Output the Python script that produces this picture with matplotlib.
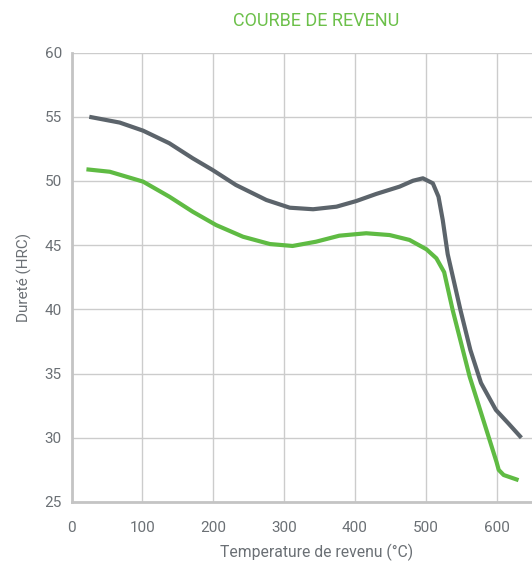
import numpy as np
import matplotlib as mpl
import matplotlib.pyplot as plt

mpl.rcParams['font.family'] = ['Roboto', 'DejaVu Sans']
mpl.rcParams['font.size'] = 11.0

# temperature (C) / hardness (HRC)
gray_t = [25, 68, 101, 138, 171, 199, 232, 275, 308, 341, 374, 402, 430, 463,
          482, 496, 510, 518, 524, 531, 549, 563, 578, 599, 617, 635]
gray_h = [55.0, 54.55, 53.92, 52.94, 51.77, 50.86, 49.69, 48.52, 47.92, 47.8, 48.0, 48.44, 48.99, 49.56,
          50.02, 50.21, 49.82, 48.78, 46.96, 44.3, 39.95, 36.84, 34.27, 32.17, 31.1, 30.0]

green_t = [21, 54, 101, 138, 171, 204, 242, 280, 312, 345, 378, 416, 449, 477, 501,
           515, 526, 538, 562, 600, 603, 610, 631]
green_h = [50.91, 50.72, 49.95, 48.78, 47.61, 46.57, 45.66, 45.09, 44.94, 45.27, 45.74, 45.93, 45.79, 45.41, 44.68,
           43.98, 42.9, 39.95, 34.76, 28.1, 27.5, 27.1, 26.7]

xticks = [0, 100, 200, 300, 400, 500, 600]
yticks = [25, 30, 35, 40, 45, 50, 55, 60]

txt = "#6b7075"

fig = plt.figure(figsize=(5.32, 5.62), dpi=100)
ax = fig.add_axes([0.1345, 0.1068, 0.8655, 0.7996])

ax.plot(gray_t, gray_h, color="#5c646b", lw=3.0, solid_joinstyle="round", solid_capstyle="butt", zorder=3)
ax.plot(green_t, green_h, color="#5fbb43", lw=3.0, solid_joinstyle="round", solid_capstyle="butt", zorder=3)

ax.set_xlim(0, 650)
ax.set_ylim(25, 60)
ax.set_xticks(xticks)
ax.set_yticks(yticks)
ax.grid(True, color="#cccccc", lw=1.0)
ax.set_axisbelow(True)
ax.tick_params(length=0, colors=txt, labelsize=11)
ax.tick_params(axis="x", pad=14)
ax.tick_params(axis="y", pad=7)

for s in ["top", "right"]:
    ax.spines[s].set_visible(False)
for s in ["left", "bottom"]:
    ax.spines[s].set_color("#c4c4c4")
    ax.spines[s].set_linewidth(2)

ax.set_xlabel("Temperature de revenu (°C)", color=txt, fontsize=11.3, labelpad=6, x=0.533)
ax.set_ylabel("Dureté (HRC)", color=txt, fontsize=11, labelpad=9)
ax.set_title("COURBE DE REVENU", color="#6cc04a", fontsize=13, x=0.531, pad=19)

fig.savefig("out.png", dpi=100)
